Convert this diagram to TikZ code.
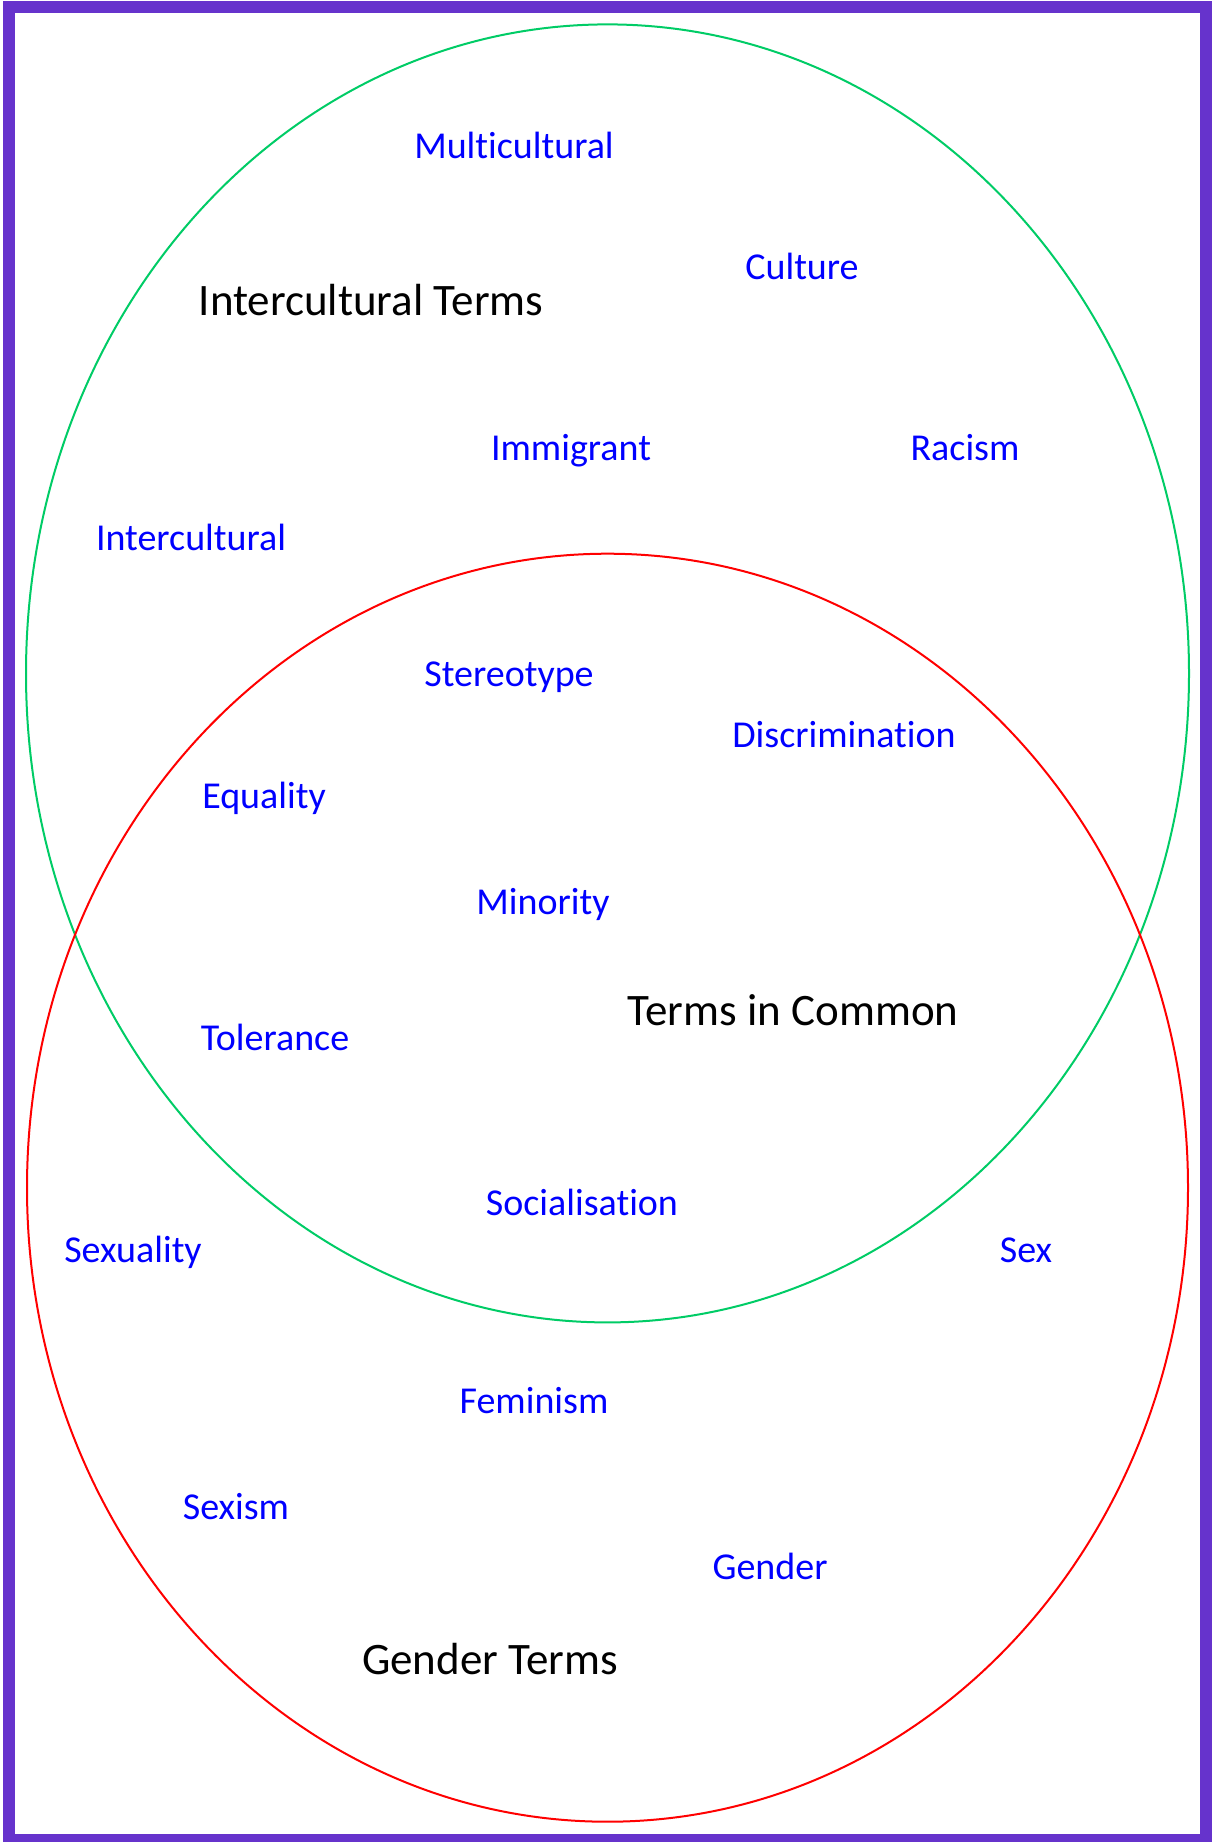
\documentclass[tikz,border=0pt]{standalone}
\usepackage{fontspec}
\setmainfont{Carlito}[RawFeature={-liga;-clig;-dlig}]
\definecolor{framecol}{HTML}{6633CC}
\definecolor{greencol}{HTML}{00CC66}
\definecolor{redcol}{HTML}{FF0000}
\definecolor{termblue}{HTML}{0000FF}
\begin{document}
\begin{tikzpicture}[x=1pt,y=-1pt,
  term/.style={text=termblue, font=\fontsize{38}{40}\selectfont, anchor=base, inner sep=0pt},
  head/.style={text=black, font=\fontsize{45}{47}\selectfont, anchor=base, inner sep=0pt},
  setline/.style={line width=2pt}]
\useasboundingbox (0,0) rectangle (1213,1842);
\fill[white] (0,0) rectangle (1213,1842);
\draw[framecol, line width=12pt] (9,7) rectangle (1206,1840);
\draw[greencol, setline] (607.5,673.4) ellipse [x radius=581.5, y radius=649];
\draw[redcol, setline] (607.5,1187.7) ellipse [x radius=580.5, y radius=634];
% headings
\node[head] (hInter) at (371,315) {Intercultural Terms};
\node[head] (hCommon) at (793,1025) {Terms in Common};
\node[head] (hGender) at (490,1674) {Gender Terms};
% intercultural terms
\node[term] (tMulti) at (514,158) {Multicultural};
\node[term] (tCulture) at (802,279) {Culture};
\node[term] (tImmigrant) at (571,460) {Immigrant};
\node[term] (tRacism) at (965,460) {Racism};
\node[term] (tInter) at (191,550) {Intercultural};
% common terms
\node[term] (tStereo) at (509,686) {Stereotype};
\node[term] (tDiscr) at (844,747) {Discrimination};
\node[term] (tEqual) at (264,808) {Equality};
\node[term] (tMinor) at (543,914) {Minority};
\node[term] (tToler) at (275,1050) {Tolerance};
\node[term] (tSocial) at (582,1215) {Socialisation};
% gender terms
\node[term] (tSexuality) at (133,1262) {Sexuality};
\node[term] (tSex) at (1026,1262) {Sex};
\node[term] (tFemin) at (534,1413) {Feminism};
\node[term] (tSexism) at (236,1519) {Sexism};
\node[term] (tGender) at (770,1579) {Gender};
\end{tikzpicture}
\end{document}
